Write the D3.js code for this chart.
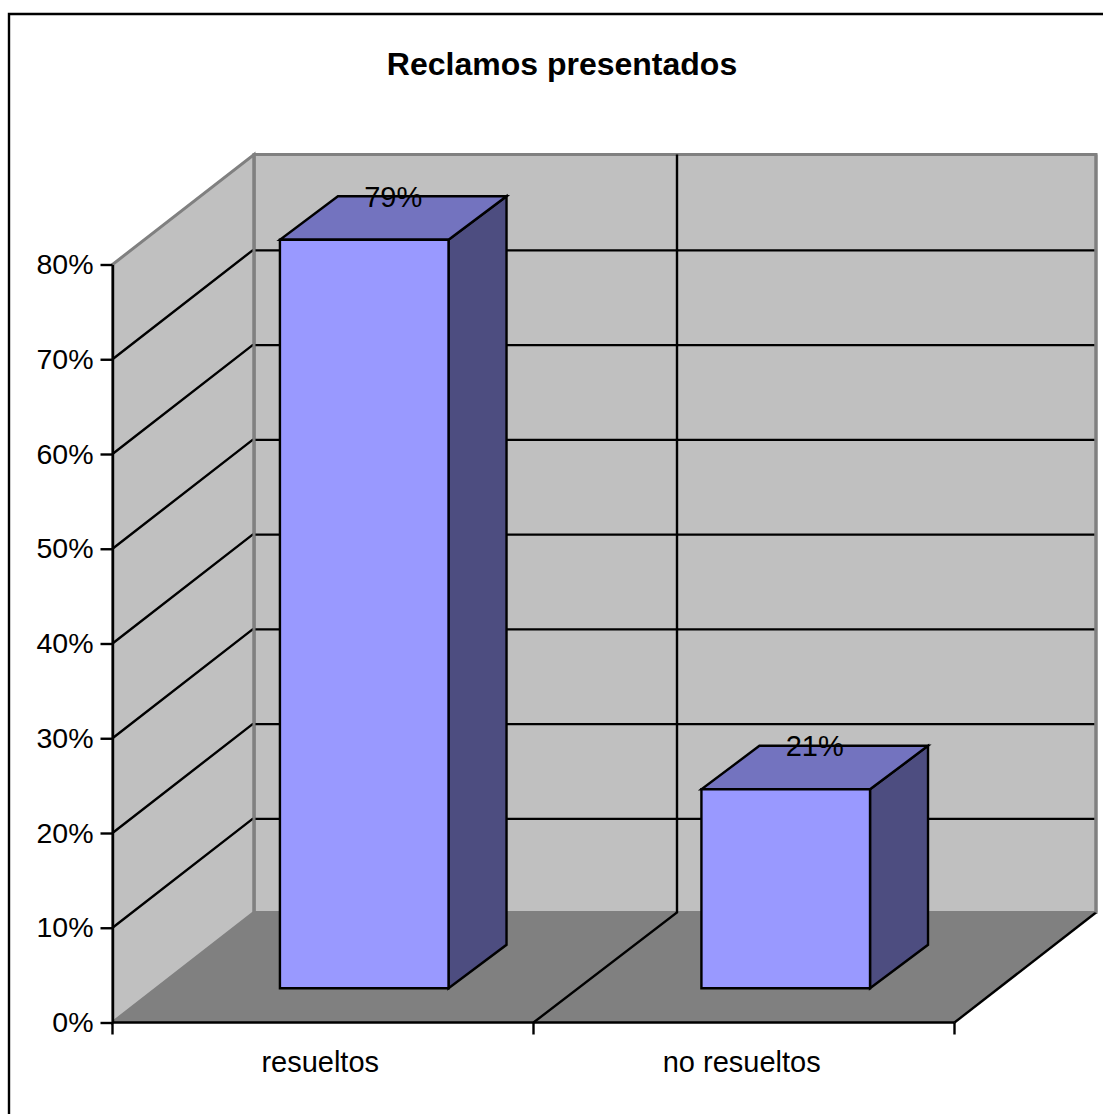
<!DOCTYPE html>
<html>
<head>
<meta charset="utf-8">
<script src="https://cdn.jsdelivr.net/npm/d3@7"></script>
<style>
html, body { margin: 0; padding: 0; background: #fff; }
svg { display: block; }
text { font-family: "Liberation Sans", Arial, sans-serif; fill: #000; }
</style>
</head>
<body>
<script>
// Share of complaints by outcome, shown as a pseudo-3D column chart.
const chartTitle = "Reclamos presentados";
const categories = ["resueltos", "no resueltos"];
const shares = [79, 21];
const shareTicks = [0, 10, 20, 30, 40, 50, 60, 70, 80];

const W = 1103, H = 1114;
const depthX = 141.5, depthY = 110;    // oblique offset of the back plane
const gridDepthX = 143.5, gridZ = 0.99; // gridlines sit just off the back wall
const barZ0 = 0.311;                   // front face of the columns along the depth axis
const barDepthX = 58, barDepthY = 43.5;
const lineW = 2.4;

const x = d3.scaleBand().domain(categories).range([112.5, 955.5])
  .paddingInner(0.6).paddingOuter(0.3).align(0.488);
const xEdge = d3.scalePoint().domain(d3.range(categories.length + 1)).range([112.5, 954.5]);
const y = d3.scaleLinear().domain([0, 80]).range([1022.5, 264.5]);

// Oblique projection: z = 0 is the front plane, z = 1 the back wall.
const px = (xv, z) => xv + z * depthX;
const py = (v, z) => y(v) - z * depthY;
const pt = (xv, v, z) => [px(xv, z), py(v, z)];
const barFront = (xv, v) => pt(xv, v, barZ0);
const barBack = (xv, v) => [px(xv, barZ0) + barDepthX, py(v, barZ0) - barDepthY];
const line = d3.line();
const closed = pts => line(pts) + "Z";

const svg = d3.select("body").append("svg").attr("width", W).attr("height", H);

// Chart area border: only the top and left edges fall inside the page
svg.append("path").attr("d", line([[W, 14], [9, 14], [9, H]]))
  .attr("fill", "none").attr("stroke", "#000").attr("stroke-width", lineW);

svg.append("text").attr("x", 562).attr("y", 75).attr("text-anchor", "middle")
  .attr("font-size", 32).attr("font-weight", "bold").text(chartTitle);

const x0 = xEdge(0), x1 = xEdge(categories.length);
const maxTick = shareTicks[shareTicks.length - 1];

// Walls and floor
const walls = svg.append("g");
walls.append("path").attr("d", closed([pt(x0, 0, 1), pt(x1, 0, 1), pt(x1, maxTick, 1), pt(x0, maxTick, 1)]))
  .attr("fill", "#c0c0c0").attr("stroke", "#808080").attr("stroke-width", 3);
walls.append("path").attr("d", closed([pt(x0, 0, 0), pt(x0, 0, 1), pt(x0, maxTick, 1), pt(x0, maxTick, 0)]))
  .attr("fill", "#c0c0c0").attr("stroke", "#808080").attr("stroke-width", 3);
walls.append("path").attr("d", closed([pt(x0, 0, 0), pt(x1, 0, 0), pt(x1, 0, 1), pt(x0, 0, 1)]))
  .attr("fill", "#808080").attr("stroke", "#808080").attr("stroke-width", 1);
walls.append("path").attr("d", line([pt(x1, 0, 0), pt(x1, 0, 1)]))
  .attr("stroke", "#000").attr("stroke-width", lineW).attr("fill", "none");

// Gridlines running across the left wall and the back wall
const grid = svg.append("g").attr("fill", "none").attr("stroke", "#000").attr("stroke-width", lineW);
shareTicks.filter(t => t > 0 && t < maxTick).forEach(t => {
  grid.append("path").attr("d", line([pt(x0, t, 0), pt(x0, t, gridZ), pt(x1, t, gridZ)]));
});
d3.range(1, categories.length).forEach(i => {
  const e = xEdge(i);
  grid.append("path").attr("d", line([
    pt(e, 0, 0),
    [e + gridDepthX, py(0, 1)],
    [e + gridDepthX, py(maxTick, 1)]
  ]));
});

// Re-stroke the wall seam and right edge over the gridlines
svg.append("path").attr("d", line([pt(x0, 0, 1), pt(x0, maxTick, 1)]))
  .attr("stroke", "#808080").attr("stroke-width", 3).attr("fill", "none");
svg.append("path").attr("d", line([pt(x1, 0, 1), pt(x1, maxTick, 1)]))
  .attr("stroke", "#808080").attr("stroke-width", 3).attr("fill", "none");

// Columns
const bars = svg.append("g").selectAll("g")
  .data(categories.map((c, i) => ({ c, v: shares[i] })))
  .join("g")
  .attr("stroke", "#000").attr("stroke-width", lineW).attr("stroke-linejoin", "miter");

bars.append("path").attr("fill", "#4d4d80").attr("d", d => {
  const r = x(d.c) + x.bandwidth();
  return closed([barFront(r, 0), barBack(r, 0), barBack(r, d.v), barFront(r, d.v)]);
});
bars.append("path").attr("fill", "#7373bf").attr("d", d => {
  const l = x(d.c), r = l + x.bandwidth();
  return closed([barFront(l, d.v), barFront(r, d.v), barBack(r, d.v), barBack(l, d.v)]);
});
bars.append("path").attr("fill", "#9999ff").attr("d", d => {
  const l = x(d.c), r = l + x.bandwidth();
  return closed([barFront(l, 0), barFront(r, 0), barFront(r, d.v), barFront(l, d.v)]);
});

// Value labels sit on the back edge of each column's top face
bars.append("text").attr("stroke", "none").attr("text-anchor", "middle").attr("font-size", 29)
  .attr("x", d => px(x(d.c) + x.bandwidth() / 2, barZ0) + barDepthX / 2)
  .attr("y", d => barBack(0, d.v)[1] + 10.5)
  .text(d => d.v + "%");

// Axes
const yAxis = svg.append("g").attr("transform", `translate(${x0},0)`)
  .call(d3.axisLeft(y).tickValues(shareTicks).tickFormat(d => d + "%").tickSize(12).tickSizeOuter(0).tickPadding(7));
yAxis.attr("font-family", null);
yAxis.selectAll("path, line").attr("stroke", "#000").attr("stroke-width", lineW);
yAxis.selectAll("text").attr("font-size", 28.5);

const xAxis = svg.append("g").attr("transform", `translate(0,${y(0)})`);
xAxis.append("line").attr("x1", x0).attr("x2", x1).attr("stroke", "#000").attr("stroke-width", lineW);
xAxis.selectAll("line.tick").data(xEdge.domain()).join("line").attr("class", "tick")
  .attr("x1", d => xEdge(d)).attr("x2", d => xEdge(d)).attr("y2", 12)
  .attr("stroke", "#000").attr("stroke-width", lineW);
xAxis.selectAll("text").data(categories).join("text")
  .attr("text-anchor", "middle").attr("font-size", 29)
  .attr("x", d => x(d) + x.bandwidth() / 2).attr("y", 49)
  .text(d => d);
</script>
</body>
</html>
